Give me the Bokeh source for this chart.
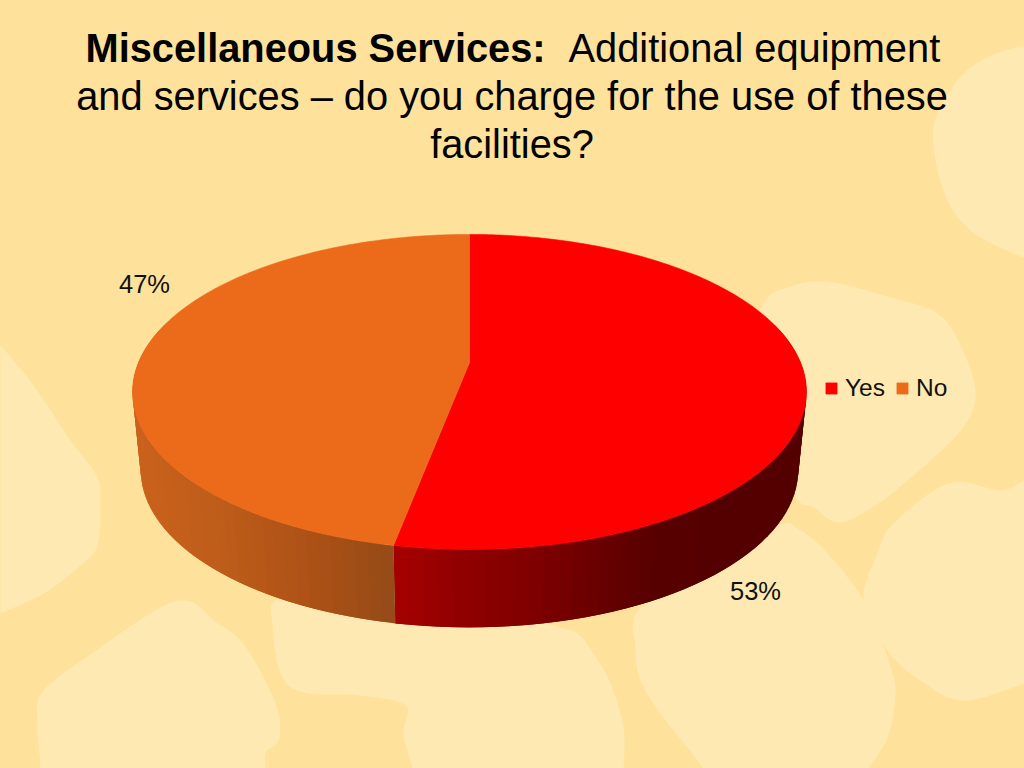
from bokeh.embed import file_html
from bokeh.resources import INLINE
from bokeh.plotting import figure
from bokeh.models import Range1d, Legend, LegendItem
from bokeh.core.properties import value
import numpy as np

categories = ["Yes", "No"]
percent = [53, 47]
top_colors = ["#ff0000", "#ec6b1b"]
title_bold = "Miscellaneous Services:"
title_lines = ["Additional equipment", "and services \u2013 do you charge for the use of these", "facilities?"]

BG = "#fee29c"
BLOB = "#fee9b2"
blob_outlines = [
    [(1045, 42), (1023, 45), (987, 57), (957, 80), (933, 127), (943, 190), (970, 230), (1023, 257), (1045, 262)],
    [(763, 303), (787, 287), (827, 281), (890, 297), (937, 313), (960, 345), (975, 393), (960, 430), (907, 480), (867, 510), (837, 522), (813, 507), (795, 497), (760, 440), (740, 360)],
    [(1045, 490), (1000, 490), (948, 483), (893, 523), (877, 553), (863, 600), (887, 650), (920, 680), (963, 700), (1024, 683), (1045, 675)],
    [(777, 525), (797, 528), (827, 553), (863, 600), (887, 657), (895, 693), (887, 737), (868, 768), (850, 800), (720, 800), (703, 768), (663, 717), (640, 680), (635, 647), (638, 610), (700, 560)],
    [(320, 590), (275, 600), (272, 623), (280, 673), (303, 692), (360, 695), (405, 705), (403, 733), (412, 768), (420, 800), (620, 800), (623, 768), (623, 727), (610, 683), (593, 653), (577, 633), (553, 625), (450, 590)],
    [(43, 690), (100, 647), (160, 607), (190, 601), (213, 620), (240, 640), (263, 677), (278, 713), (278, 740), (265, 752), (265, 768), (265, 800), (44, 800), (40, 763), (37, 723)],
    [(-25, 320), (0, 345), (33, 385), (70, 440), (96, 475), (100, 500), (97, 545), (80, 565), (45, 592), (0, 613), (-25, 625)],
]


def smooth(points, per_seg=14):
    pts = np.array(points, dtype=float)
    n = len(pts)
    out = []
    for i in range(n):
        p0, p1, p2, p3 = pts[i - 1], pts[i], pts[(i + 1) % n], pts[(i + 2) % n]
        for t in np.linspace(0, 1, per_seg, endpoint=False):
            out.append(0.5 * (2 * p1 + (p2 - p0) * t + (2 * p0 - 5 * p1 + 4 * p2 - p3) * t**2
                              + (3 * p1 - p0 - 3 * p2 + p3) * t**3))
    out = np.array(out)
    return out[:, 0].tolist(), out[:, 1].tolist()


# perspective projection of a disc; theta runs clockwise from 12 o'clock
CX, K, B = 469.0, 0.187, 152.0


def project(theta, a, cy):
    u, v = np.sin(theta), np.cos(theta)
    d = 1 + K * v
    return CX + a * u / d, cy - B * v / d


TOP = (331.0, 362.0)
LOW = (323.0, 440.0)

p = figure(width=1024, height=768, x_range=Range1d(0, 1024), y_range=Range1d(768, 0),
           x_axis_type=None, y_axis_type=None, toolbar_location=None, output_backend="svg",
           min_border=0, outline_line_color=None, background_fill_color=BG, border_fill_color=BG)
p.grid.visible = False

bx, by = zip(*[smooth(b) for b in blob_outlines])
p.patches(list(bx), list(by), fill_color=BLOB, line_color=None)


def lerp(stops, x):
    xs = [s[0] for s in stops]
    return tuple(int(round(np.interp(x, xs, [s[1][i] for s in stops]))) for i in range(3))


RED_SIDE = [(395, (165, 0, 0)), (470, (142, 0, 0)), (530, (128, 0, 0)), (600, (104, 0, 0)), (660, (86, 0, 0)), (810, (84, 0, 0))]
ORANGE_SIDE = [(130, (202, 98, 28)), (220, (190, 92, 26)), (320, (170, 80, 22)), (395, (148, 74, 24))]

# side wall, in narrow overlapping strips painted in order, then the two top faces
cuts = 2 * np.pi * np.cumsum([0] + percent) / sum(percent)
sx, sy, sc = [], [], []
for i, stops in enumerate([RED_SIDE, ORANGE_SIDE]):
    a0, a1 = cuts[i], cuts[i + 1]
    thetas = np.linspace(a0, a1, 90)
    for t0, t1 in zip(thetas[:-1], thetas[1:]):
        if np.cos((t0 + t1) / 2) > 0.25:
            continue
        t2 = min(t1 + (t1 - t0), a1)
        x0, y0 = project(t0, *TOP)
        x1, y1 = project(t2, *TOP)
        x2, y2 = project(t2, *LOW)
        x3, y3 = project(t0, *LOW)
        sx.append([x0, x1, x2, x3])
        sy.append([y0, y1, y2, y3])
        mx = (project(t0, *TOP)[0] + project(t1, *TOP)[0]) / 2
        sc.append("#%02x%02x%02x" % lerp(stops, mx))
p.patches(sx, sy, fill_color=sc, line_color=None)

items = []
for i, name in enumerate(categories):
    th = np.linspace(cuts[i], cuts[i + 1], 240)
    x, y = project(th, *TOP)
    xs = [CX] + x.tolist()
    ys = [TOP[1]] + y.tolist()
    r = p.patch(xs, ys, fill_color=top_colors[i], line_color=top_colors[i], line_width=0.6)
    items.append(LegendItem(label=name, renderers=[r]))

font = value("Liberation Sans")
p.text([85], [47], text=[title_bold], text_font=font, text_font_size="39.8px", text_font_style="bold",
       text_color="black", text_align="left", text_baseline="alphabetic")
p.text([568], [47], text=[title_lines[0]], text_font=font, text_font_size="39.8px", text_color="black",
       text_align="left", text_baseline="alphabetic")
p.text([511.5, 511.5], [95, 143], text=title_lines[1:], text_font=font, text_font_size="39.8px", text_color="black",
       text_align="center", text_baseline="alphabetic")

p.text([755, 144], [590.5, 283.5], text=[f"{percent[0]}%", f"{percent[1]}%"], text_font=font,
       text_font_size="25.5px", text_color="#111111", text_align="center", text_baseline="alphabetic")

legend = Legend(items=items, orientation="horizontal", location=(824, 366), glyph_width=14, glyph_height=14,
                label_text_font="Liberation Sans", label_text_font_size="24.5px", label_text_color="#111111",
                background_fill_alpha=0, border_line_color=None, padding=0, margin=0, spacing=10,
                label_standoff=7)
p.add_layout(legend, "center")

html = file_html(p, INLINE)
html = html.replace("</head>", f"<style>html,body{{background:{BG};}}</style></head>", 1)
open("out.html", "w").write(html)
